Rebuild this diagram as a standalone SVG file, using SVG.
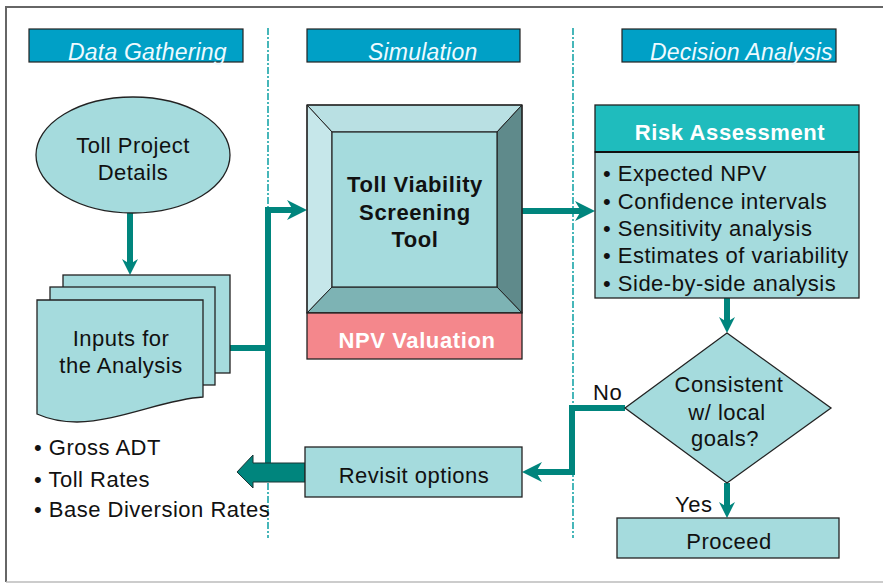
<svg xmlns="http://www.w3.org/2000/svg" width="883" height="583" viewBox="0 0 883 583">
<defs>
<style>
text{font-family:"Liberation Sans",Arial,sans-serif;}
.hdr{fill:#00A0C6;stroke:#222;stroke-width:1.2;}
.hdrt{font-size:23px;font-style:italic;fill:#EEFAFF;letter-spacing:0.2px;}
.node{fill:#A5DBDD;stroke:#222;stroke-width:1.3;}
.t{font-size:22px;fill:#111;letter-spacing:0.5px;}
.tb{font-size:22px;font-weight:bold;letter-spacing:0.6px;}
.c{text-anchor:middle;}
.div{stroke:#1AA5A8;stroke-width:1.6;stroke-dasharray:7 2 2 2;fill:none;}
.con{stroke:#00857D;stroke-width:6;fill:none;}
</style>
<marker id="ah" viewBox="0 0 20 20" refX="6" refY="10" markerWidth="20" markerHeight="20" markerUnits="userSpaceOnUse" orient="auto">
<path d="M0,0 L20,10 L0,20 L6,10 Z" fill="#00857D"/>
</marker>
<marker id="ahs" viewBox="0 0 16 16" refX="5" refY="8" markerWidth="16" markerHeight="16" markerUnits="userSpaceOnUse" orient="auto">
<path d="M0,0 L16,8 L0,16 L5,8 Z" fill="#00857D"/>
</marker>
</defs>
<rect width="883" height="583" fill="#fff"/>
<path d="M6,582 V7 H883" stroke="#666" stroke-width="2" fill="none"/>
<line x1="6" y1="582" x2="883" y2="582" stroke="#bbb" stroke-width="1.5"/>
<line class="div" x1="268" y1="28" x2="268" y2="538"/>
<line class="div" x1="573" y1="28" x2="573" y2="538"/>

<g id="hdr-data">
<rect class="hdr" x="29" y="29" width="214" height="33"/>
<text class="hdrt" x="68" y="60">Data Gathering</text>
</g>
<g id="hdr-sim">
<rect class="hdr" x="307" y="29" width="213" height="33"/>
<text class="hdrt" x="368" y="60">Simulation</text>
</g>
<g id="hdr-dec">
<rect class="hdr" x="622" y="29" width="214" height="33"/>
<text class="hdrt" x="650" y="60">Decision Analysis</text>
</g>

<g id="connectors">
<line class="con" x1="130" y1="213" x2="130" y2="264" marker-end="url(#ahs)"/>
<path class="con" d="M229,348 H268"/>
<path class="con" d="M268,466 V210 H293" marker-end="url(#ah)"/>
<path class="con" d="M522,211 H581" marker-end="url(#ah)"/>
<path class="con" d="M727,298 V322" marker-end="url(#ahs)"/>
<path class="con" d="M625,408 H572 V472 H536" marker-end="url(#ah)"/>
<path class="con" d="M727,483 V507" marker-end="url(#ahs)"/>
<polygon points="305,463 253,463 253,455 237,472 253,488 253,482 305,482" fill="#00857D" stroke="#1a3535" stroke-width="1"/>
</g>

<g id="n-project">
<ellipse class="node" cx="133" cy="155" rx="97" ry="58"/>
<text class="t c" x="133" y="153">Toll Project</text>
<text class="t c" x="133" y="180">Details</text>
</g>

<g id="n-inputs">
<rect class="node" x="63" y="275" width="167" height="98"/>
<rect class="node" x="50" y="287" width="165" height="98"/>
<path class="node" d="M37,300 H203 V397 C165,399 120,421 77,422 C60,422 46,418 37,414 Z"/>
<text class="t c" x="121" y="346">Inputs for</text>
<text class="t c" x="121" y="373">the Analysis</text>
</g>

<g id="n-inputs-list">
<text class="t" x="34" y="455">• Gross ADT</text>
<text class="t" x="34" y="487">• Toll Rates</text>
<text class="t" x="34" y="517">• Base Diversion Rates</text>
</g>

<g id="n-tool">
<polygon points="307,105 522,105 497,132 332,132" fill="#B9E0E3" stroke="#222" stroke-width="1"/>
<polygon points="307,105 332,132 332,287 307,313" fill="#C6E7EA" stroke="#222" stroke-width="1"/>
<polygon points="522,105 522,313 497,287 497,132" fill="#5F8A8B" stroke="#222" stroke-width="1"/>
<polygon points="307,313 332,287 497,287 522,313" fill="#7DB3B4" stroke="#222" stroke-width="1"/>
<rect x="332" y="132" width="165" height="155" fill="#A5DBDD" stroke="#222" stroke-width="1.2"/>
<rect x="307" y="105" width="215" height="208" fill="none" stroke="#222" stroke-width="1.3"/>
<text class="tb c" x="415" y="192" fill="#111">Toll Viability</text>
<text class="tb c" x="415" y="220" fill="#111">Screening</text>
<text class="tb c" x="415" y="247" fill="#111">Tool</text>
</g>

<g id="n-npv">
<rect x="307" y="313" width="215" height="46" fill="#F4878C" stroke="#222" stroke-width="1.3"/>
<text class="tb c" x="417" y="348" fill="#fff">NPV Valuation</text>
</g>

<g id="n-risk">
<rect class="node" x="595" y="152" width="264" height="146"/>
<rect x="595" y="105" width="264" height="47" fill="#1FBCBD" stroke="#222" stroke-width="1.3"/>
<line x1="595" y1="152" x2="859" y2="152" stroke="#111" stroke-width="2.2"/>
<text class="tb c" x="730" y="140" fill="#fff">Risk Assessment</text>
<text class="t" x="603" y="181">• Expected NPV</text>
<text class="t" x="603" y="209">• Confidence intervals</text>
<text class="t" x="603" y="236">• Sensitivity analysis</text>
<text class="t" x="603" y="263">• Estimates of variability</text>
<text class="t" x="603" y="291">• Side-by-side analysis</text>
</g>

<g id="n-decision">
<polygon class="node" points="727,333 831,408 727,483 625,408"/>
<text class="t c" x="729" y="392">Consistent</text>
<text class="t c" x="727" y="420">w/ local</text>
<text class="t c" x="725" y="446">goals?</text>
</g>

<g id="labels">
<text class="t" x="593" y="400">No</text>
<text class="t" x="675" y="512">Yes</text>
</g>

<g id="n-revisit">
<rect class="node" x="305" y="447" width="217" height="50"/>
<text class="t c" x="414" y="483">Revisit options</text>
</g>

<g id="n-proceed">
<rect class="node" x="617" y="518" width="222" height="40"/>
<text class="t c" x="729" y="549">Proceed</text>
</g>
</svg>
